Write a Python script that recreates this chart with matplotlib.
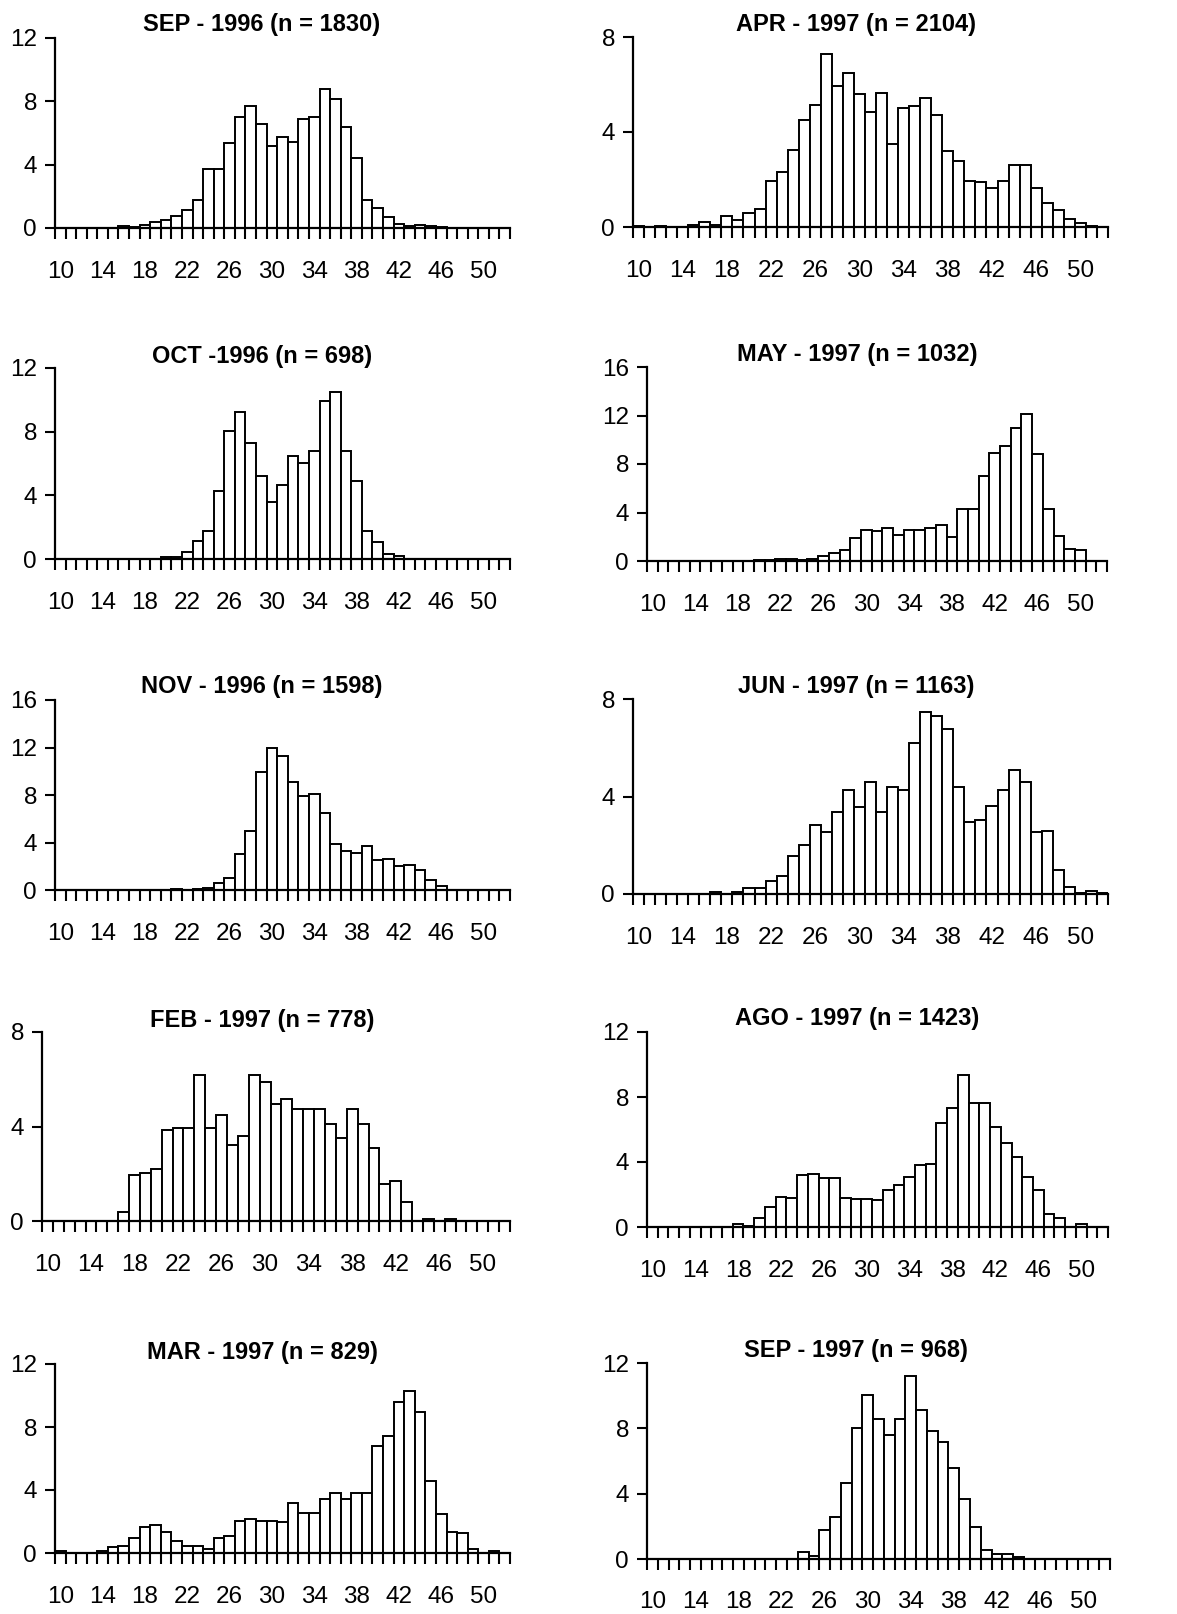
import matplotlib
matplotlib.use("Agg")
import matplotlib.pyplot as plt
import numpy as np

plt.rcParams['font.family'] = ['Liberation Sans', 'DejaVu Sans']

# Length classes (bins 10..52)
lengths = list(range(10, 53))
tick_labels = [str(v) for v in range(10, 51, 4)]

titles = ["SEP - 1996 (n = 1830)", "APR - 1997 (n = 2104)",
          "OCT -1996 (n = 698)", "MAY - 1997 (n = 1032)",
          "NOV - 1996 (n = 1598)", "JUN - 1997 (n = 1163)",
          "FEB - 1997 (n = 778)", "AGO - 1997 (n = 1423)",
          "MAR - 1997 (n = 829)", "SEP - 1997 (n = 968)"]

sep96 = [0]*6 + [0.1, 0.05, 0.2, 0.4, 0.5, 0.75, 1.15, 1.8, 3.75, 3.75, 5.4, 7.0, 7.7, 6.6,
                 5.15, 5.75, 5.45, 6.9, 7.0, 8.8, 8.15, 6.4, 4.45, 1.75, 1.25, 0.7, 0.25,
                 0.1, 0.2, 0.1, 0.05] + [0]*6
apr97 = [0.05, 0, 0.05, 0, 0, 0.1, 0.2, 0.1, 0.45, 0.3, 0.6, 0.75, 1.95, 2.3, 3.25, 4.5,
         5.15, 7.3, 5.95, 6.5, 5.6, 4.85, 5.65, 3.5, 5.0, 5.1, 5.45, 4.7, 3.2, 2.8, 1.95,
         1.9, 1.65, 1.95, 2.6, 2.6, 1.65, 1.0, 0.7, 0.35, 0.15, 0.05, 0]
oct96 = [0]*10 + [0.15, 0.15, 0.45, 1.15, 1.75, 4.3, 8.05, 9.25, 7.3, 5.2, 3.6, 4.65, 6.5,
                  6.05, 6.8, 9.95, 10.5, 6.8, 4.9, 1.75, 1.05, 0.3, 0.2] + [0]*10
may97 = [0]*10 + [0.1, 0.1, 0.15, 0.15, 0.05, 0.2, 0.4, 0.7, 0.9, 1.9, 2.55, 2.5, 2.7, 2.15,
                  2.55, 2.55, 2.7, 2.95, 2.0, 4.25, 4.3, 7.0, 8.9, 9.5, 11.0, 12.1, 8.8,
                  4.25, 2.1, 0.95, 0.9, 0, 0]
nov96 = [0]*11 + [0.05, 0, 0.05, 0.15, 0.55, 1.05, 3.05, 5.0, 9.9, 12.0, 11.25, 9.1, 7.9,
                  8.05, 6.45, 3.9, 3.25, 3.15, 3.7, 2.55, 2.65, 2.05, 2.1, 1.65, 0.85,
                  0.3] + [0]*6
jun97 = [0]*7 + [0.08, 0, 0.1, 0.25, 0.25, 0.55, 0.75, 1.55, 2.0, 2.85, 2.55, 3.35, 4.25,
                 3.55, 4.6, 3.35, 4.4, 4.25, 6.2, 7.45, 7.3, 6.75, 4.4, 2.95, 3.05, 3.6,
                 4.25, 5.1, 4.6, 2.55, 2.6, 1.0, 0.3, 0.05, 0.12, 0.05]
feb97 = [0]*7 + [0.4, 1.95, 2.05, 2.2, 3.85, 3.95, 3.95, 6.2, 3.95, 4.5, 3.2, 3.6, 6.2,
                 5.9, 4.95, 5.15, 4.75, 4.75, 4.75, 4.1, 3.5, 4.75, 4.1, 3.1, 1.55, 1.7,
                 0.8, 0, 0.1, 0, 0.1] + [0]*5
ago97 = [0]*8 + [0.2, 0.05, 0.55, 1.25, 1.85, 1.8, 3.2, 3.25, 3.0, 3.0, 1.8, 1.7, 1.7,
                 1.65, 2.3, 2.6, 3.1, 3.8, 3.9, 6.4, 7.3, 9.35, 7.65, 7.65, 6.15, 5.2,
                 4.3, 3.05, 2.25, 0.8, 0.55, 0, 0.2, 0, 0]
mar97 = [0.1, 0, 0, 0, 0.1, 0.35, 0.45, 0.95, 1.65, 1.8, 1.35, 0.75, 0.45, 0.45, 0.25,
         0.95, 1.1, 2.05, 2.15, 2.05, 2.05, 1.95, 3.15, 2.55, 2.55, 3.4, 3.8, 3.45, 3.8,
         3.8, 6.8, 7.4, 9.6, 10.3, 8.95, 4.6, 2.45, 1.35, 1.25, 0.25, 0, 0.15, 0]
sep97 = [0]*14 + [0.4, 0.2, 1.75, 2.55, 4.65, 8.0, 10.05, 8.6, 7.6, 8.6, 11.2, 9.1, 7.85,
                  7.15, 5.6, 3.7, 1.95, 0.55, 0.3, 0.3, 0.15] + [0]*8

series = [sep96, apr97, oct96, may97, nov96, jun97, feb97, ago97, mar97, sep97]
ymaxes = [12, 8, 12, 16, 16, 8, 8, 12, 12, 12]

W, H = 1177, 1614
fig = plt.figure(figsize=(W/100, H/100), dpi=100)

# axes boxes in pixels: (x0, x1, ytop, ybottom)
boxes = [(55, 510, 38, 228), (633, 1108, 37, 227),
         (55, 510, 368, 559), (647, 1107, 367, 561),
         (55, 510, 700, 890), (633, 1108, 699, 894),
         (42, 510, 1032, 1221), (647, 1108, 1032, 1227),
         (55, 510, 1364, 1553), (647, 1110, 1363, 1559)]
title_pos = [(262, 25), (856, 25), (262, 356), (857, 354), (262, 687), (856, 687),
             (262, 1020), (857, 1019), (262, 1353), (856, 1351)]
xpads = [23.5, 23.5, 23.5, 23.5, 23.5, 23.5, 23.5, 23.5, 23.5, 23]

for k in range(10):
    x0, x1, yt, yb = boxes[k]
    ax = fig.add_axes([x0/W, 1 - yb/H, (x1-x0)/W, (yb-yt)/H])
    vals = series[k]
    ax.bar(lengths, vals, width=1.0, color='white', edgecolor='black', linewidth=1.4,
           align='center', zorder=2)
    ax.set_xlim(9.5, 52.5)
    ax.set_ylim(0, ymaxes[k])
    ax.set_yticks(np.arange(0, ymaxes[k]+1, 4))
    ax.tick_params(axis='y', labelsize=17.5, length=7, width=1.5, pad=6, direction='out')
    ax.set_xticks(np.arange(10, 51, 4))
    ax.set_xticklabels(tick_labels)
    ax.set_xticks(np.arange(9.5, 53, 1), minor=True)
    ax.tick_params(axis='x', which='major', length=0, labelsize=17.5, pad=xpads[k])
    ax.tick_params(axis='x', which='minor', length=8, width=1.5, direction='out')
    for s in ['top', 'right']:
        ax.spines[s].set_visible(False)
    for s in ['left', 'bottom']:
        ax.spines[s].set_linewidth(1.6)
    ax.set_facecolor('none')
    tx, ty = title_pos[k]
    fig.text(tx/W, 1 - ty/H, titles[k], ha='center', va='center', fontsize=17,
             fontweight='bold')

fig.savefig('out.png', dpi=100, facecolor='white')
